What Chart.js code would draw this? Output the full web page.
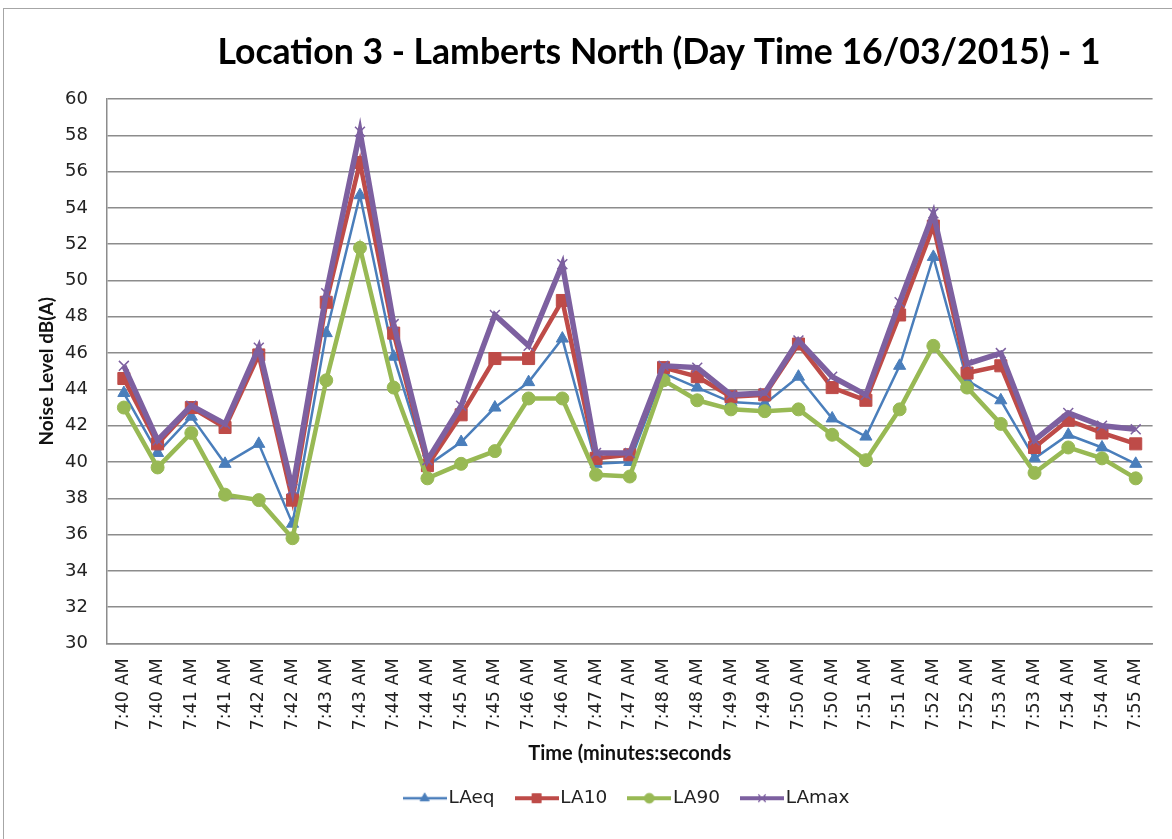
<!DOCTYPE html>
<html>
<head>
<meta charset="utf-8">
<title>Location 3 - Lamberts North</title>
<script src="https://cdn.jsdelivr.net/npm/chart.js@4.4.0/dist/chart.umd.min.js"></script>
<style>
  html, body { margin: 0; padding: 0; background: #fff; }
  #wrap { position: relative; width: 1172px; height: 839px; overflow: hidden; }
  #frame { position: absolute; left: 3px; top: 8px; width: 1200px; height: 900px; border: 1px solid #a6a6a6; }
  canvas { position: absolute; left: 0; top: 0; }
</style>
</head>
<body>
<div id="wrap">
  <div id="frame"></div>
  <canvas id="chart1" width="1172" height="839"></canvas>
</div>
<script>
// Chart data
const chartTitle = 'Location 3 - Lamberts North (Day Time 16/03/2015) - 1';

const timeLabels = [
  '7:40 AM', '7:40 AM', '7:41 AM', '7:41 AM', '7:42 AM', '7:42 AM', '7:43 AM', '7:43 AM',
  '7:44 AM', '7:44 AM', '7:45 AM', '7:45 AM', '7:46 AM', '7:46 AM', '7:47 AM', '7:47 AM',
  '7:48 AM', '7:48 AM', '7:49 AM', '7:49 AM', '7:50 AM', '7:50 AM', '7:51 AM', '7:51 AM',
  '7:52 AM', '7:52 AM', '7:53 AM', '7:53 AM', '7:54 AM', '7:54 AM', '7:55 AM'
];

const laeq = [43.8, 40.5, 42.5, 39.9, 41.0, 36.6, 47.1, 54.7, 45.8, 39.8, 41.1, 43.0, 44.4, 46.8, 39.9, 40.0,
  44.9, 44.1, 43.3, 43.2, 44.7, 42.4, 41.4, 45.3, 51.3, 44.5, 43.4, 40.2, 41.5, 40.8, 39.9];
const la10 = [44.6, 41.0, 43.0, 41.9, 45.9, 37.9, 48.8, 56.5, 47.1, 39.8, 42.6, 45.7, 45.7, 48.9, 40.2, 40.4,
  45.2, 44.7, 43.6, 43.7, 46.5, 44.1, 43.4, 48.1, 53.0, 44.9, 45.3, 40.8, 42.3, 41.6, 41.0];
const la90 = [43.0, 39.7, 41.6, 38.2, 37.9, 35.8, 44.5, 51.8, 44.1, 39.1, 39.9, 40.6, 43.5, 43.5, 39.3, 39.2,
  44.5, 43.4, 42.9, 42.8, 42.9, 41.5, 40.1, 42.9, 46.4, 44.1, 42.1, 39.4, 40.8, 40.2, 39.1];
const lamax = [45.3, 41.2, 43.1, 42.1, 46.3, 38.5, 49.3, 58.2, 47.6, 40.1, 43.1, 48.1, 46.4, 50.9, 40.5, 40.5,
  45.3, 45.2, 43.7, 43.8, 46.7, 44.7, 43.7, 48.8, 53.7, 45.4, 46.0, 41.2, 42.7, 42.0, 41.8];

const yMin = 30;
const yMax = 60;
const yStep = 2;

const tickFont = "'DejaVu Sans', Verdana, sans-serif";
const boldFont = "Lato, 'Open Sans', sans-serif";

const seriesStyle = [
  { label: 'LAeq',  data: laeq,  color: '#4a7ebb', width: 2.5, point: 'triangle', radius: 7,   order: 3 },
  { label: 'LA10',  data: la10,  color: '#be4b48', width: 4.5, point: 'rect',     radius: 8.5, order: 2 },
  { label: 'LA90',  data: la90,  color: '#98b954', width: 4.5, point: 'circle',   radius: 6.5, order: 1 },
  { label: 'LAmax', data: lamax, color: '#7d60a0', width: 5.5, point: 'crossRot', radius: 7,   order: 0 }
];

// small line + marker icon for the legend
const legendIcon = (s) => {
  const c = document.createElement('canvas');
  c.width = 44;
  c.height = 18;
  const ctx = c.getContext('2d');
  ctx.strokeStyle = s.color;
  ctx.lineWidth = Math.min(s.width, 4);
  ctx.beginPath();
  ctx.moveTo(0, 9);
  ctx.lineTo(44, 9);
  ctx.stroke();
  ctx.fillStyle = s.color;
  ctx.strokeStyle = s.color;
  ctx.lineWidth = s.point === 'crossRot' ? 1.2 : 1;
  Chart.helpers.drawPoint(ctx, { pointStyle: s.point, radius: s.radius * 0.75, rotation: 0, borderWidth: ctx.lineWidth }, 22, 9);
  return c;
};
const icons = seriesStyle.map(legendIcon);

// title drawn a bit right of centre, like the original
const titlePlugin = {
  id: 'sheetTitle',
  afterDraw(chart) {
    const ctx = chart.ctx;
    ctx.save();
    ctx.font = 'bold 35.6px ' + boldFont;
    ctx.fillStyle = '#000';
    ctx.textAlign = 'center';
    ctx.textBaseline = 'middle';
    ctx.fillText(chartTitle, 659, 53);
    ctx.restore();
  }
};

const ctx = document.getElementById('chart1').getContext('2d');
new Chart(ctx, {
  type: 'line',
  data: {
    labels: timeLabels,
    datasets: seriesStyle.map(s => ({
      label: s.label,
      data: s.data,
      borderColor: s.color,
      backgroundColor: s.color,
      borderWidth: s.width,
      pointStyle: s.point,
      pointRadius: s.radius,
      pointBackgroundColor: s.color,
      pointBorderColor: s.color,
      pointBorderWidth: s.point === 'crossRot' ? 1.5 : 1,
      tension: 0,
      fill: false,
      order: s.order
    }))
  },
  options: {
    responsive: false,
    animation: false,
    layout: {
      padding: { left: 0, right: 17, top: 99, bottom: 21.5 }
    },
    plugins: {
      title: { display: false },
      tooltip: { enabled: false },
      legend: {
        display: true,
        position: 'bottom',
        fullSize: false,
        labels: {
          color: '#222',
          font: { family: tickFont, size: 18.5 },
          usePointStyle: true,
          pointStyleWidth: 29,
          padding: 27.5,
          sort: (a, b) => a.datasetIndex - b.datasetIndex,
          generateLabels: (chart) => {
            const items = Chart.defaults.plugins.legend.labels.generateLabels(chart);
            return items.map(it => Object.assign(it, { pointStyle: icons[it.datasetIndex] }));
          }
        }
      }
    },
    scales: {
      x: {
        offset: true,
        grid: { display: false, drawTicks: false },
        border: { display: true, color: '#8c8c8c', width: 1.5 },
        ticks: {
          autoSkip: false,
          maxRotation: 90,
          minRotation: 90,
          padding: 15,
          color: '#222',
          font: { family: tickFont, size: 17.5 }
        },
        title: {
          display: true,
          text: 'Time (minutes:seconds',
          color: '#111',
          font: { family: boldFont, size: 20, weight: 'bold' },
          padding: { top: 0, bottom: -4 }
        },
        afterFit: (scale) => { scale.height = 118; }
      },
      y: {
        min: yMin,
        max: yMax,
        grid: { color: '#8c8c8c', lineWidth: 1.5, drawTicks: false },
        border: { display: true, color: '#8c8c8c', width: 1.5 },
        ticks: {
          stepSize: yStep,
          padding: 19,
          color: '#222',
          font: { family: tickFont, size: 18 }
        },
        title: {
          display: true,
          text: 'Noise Level dB(A)',
          color: '#111',
          font: { family: boldFont, size: 19, weight: 'bold' },
          padding: { top: 35.5, bottom: 0 }
        },
        afterFit: (scale) => { scale.width = 107; }
      }
    }
  },
  plugins: [titlePlugin]
});
</script>
</body>
</html>
